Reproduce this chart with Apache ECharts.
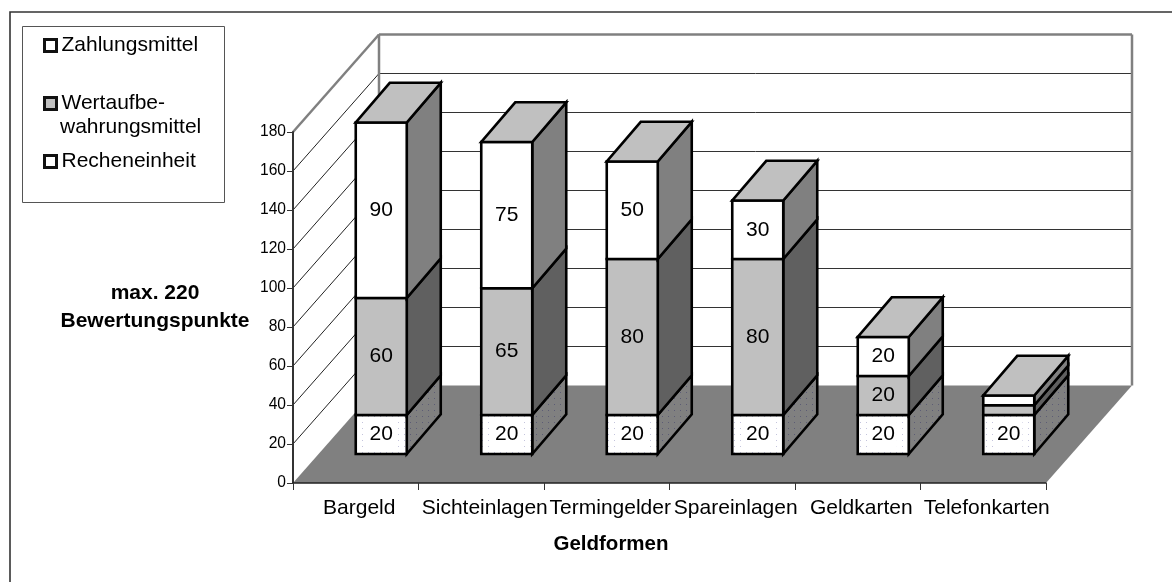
<!DOCTYPE html>
<html>
<head>
<meta charset="utf-8">
<style>html,body{margin:0;padding:0;background:#fff}#c{width:1172px;height:582px}</style>
<script src="https://cdn.jsdelivr.net/npm/echarts@6/dist/echarts.min.js"></script>
</head>
<body>
<div id="c"></div>
<script>
const categories = ['Bargeld','Sichteinlagen','Termingelder','Spareinlagen','Geldkarten','Telefonkarten'];
const recheneinheit = [20,20,20,20,20,20];
const wertaufbewahrung = [60,65,80,80,20,5];
const zahlungsmittel = [90,75,50,30,20,5];
const yTicks = [0,20,40,60,80,100,120,140,160,180];

const FONT = '"Liberation Sans", Arial, sans-serif';
const WALL = [86,-97.5], OFF = [25.5,-29], DEPTH = [34,-39.7];
const BAR_RATIO = 51/125.5;

function dots(bg, dot){
  const c = document.createElement('canvas');
  c.width = 6; c.height = 6;
  const g = c.getContext('2d');
  g.fillStyle = bg; g.fillRect(0,0,6,6);
  g.fillStyle = dot; g.fillRect(2,2,1,1);
  return {image:c, repeat:'repeat'};
}
const dotFront = dots('#ffffff','#c4c4dc');
const dotSide = dots('#808080','#5c5c74');

function poly(pts, fill, stroke, w){
  return {type:'polygon', shape:{points:pts}, style:{fill:fill, stroke:stroke||null, lineWidth:w||0, lineJoin:'miter'}};
}
function line(a,b,stroke,w){
  return {type:'line', shape:{x1:a[0],y1:a[1],x2:b[0],y2:b[1]}, style:{stroke:stroke, lineWidth:w}};
}

function renderWalls(params, api){
  const cs = params.coordSys, ch = [];
  const L = cs.x, R = cs.x+cs.width, Y0 = api.coord([0,0])[1], Yt = api.coord([0,180])[1];
  const dx = WALL[0], dy = WALL[1];
  ch.push(poly([[L,Yt],[L+dx,Yt+dy],[R+dx,Yt+dy],[R+dx,Y0+dy],[L+dx,Y0+dy],[L,Y0]],'#ffffff'));
  ch.push(poly([[L,Y0],[R,Y0],[R+dx,Y0+dy],[L+dx,Y0+dy]],'#808080'));
  yTicks.forEach(function(t){
    const y = api.coord([0,t])[1];
    if(t>0 && t<180){
      ch.push(line([L,y],[L+dx,y+dy],'#222',1));
      ch.push(line([L+dx,y+dy],[R+dx,y+dy],'#333',1));
    }
  });
  ch.push(line([L,Yt],[L+dx,Yt+dy],'#808080',2.5));
  ch.push(line([L+dx,Yt+dy],[R+dx,Yt+dy],'#808080',2.5));
  ch.push(line([L+dx,Yt+dy],[L+dx,Y0+dy],'#808080',2.5));
  ch.push(line([R+dx,Yt+dy],[R+dx,Y0+dy],'#808080',2.5));
  return {type:'group', children:ch};
}

function barRenderer(front, side, cap, labelBg){
  return function(params, api){
    const cat = api.value(0), a = api.value(1), b = api.value(2);
    const pa = api.coord([cat,a]), pb = api.coord([cat,b]);
    const w = api.size([1,0])[0]*BAR_RATIO;
    const x0 = pa[0]-w/2+OFF[0], x1 = x0+w;
    const y0 = pa[1]+OFF[1], y1 = pb[1]+OFF[1];
    const dx = DEPTH[0], dy = DEPTH[1], lw = 2.6;
    const ch = [
      poly([[x1,y0],[x1,y1],[x1+dx,y1+dy],[x1+dx,y0+dy]],side,'#000',lw),
      poly([[x0,y0],[x1,y0],[x1,y1],[x0,y1]],front,'#000',lw)
    ];
    if(cap){
      ch.push(poly([[x0,y1],[x1,y1],[x1+dx,y1+dy],[x0+dx,y1+dy]],cap,'#000',lw));
    }
    if(b-a>=20){
      ch.push({type:'text', style:{
        x:(x0+x1)/2, y:(y0+y1)/2, text:String(b-a), fill:'#000',
        font:'21px '+FONT, align:'center', verticalAlign:'middle',
        backgroundColor:labelBg||null, padding:labelBg?[5,2]:0
      }});
    }
    return {type:'group', children:ch};
  };
}

const base = recheneinheit.map(function(v,i){return [i,0,v];});
const mid = wertaufbewahrung.map(function(v,i){return [i,recheneinheit[i],recheneinheit[i]+v];});
const top_ = zahlungsmittel.map(function(v,i){
  const s = recheneinheit[i]+wertaufbewahrung[i]; return [i,s,s+v];
});

function legendAt(name, topPx, fill, label){
  return {
    show:true, left:43, top:topPx, orient:'vertical', selectedMode:false, padding:0,
    itemWidth:12, itemHeight:12, icon:'rect',
    itemStyle:{color:fill, borderColor:'#111', borderWidth:3},
    textStyle:{fontFamily:FONT, fontSize:21, color:'#000', padding:[0,0,0,0]},
    formatter:function(){return label;},
    data:[{name:name}]
  };
}

const chart = echarts.init(document.getElementById('c'), null, {renderer:'canvas'});
chart.setOption({
  animation:false,
  backgroundColor:'#fff',
  grid:{left:293, top:132, width:753, height:351, containLabel:false},
  legend:[
    legendAt('Zahlungsmittel',35,'#ffffff','Zahlungsmittel'),
    legendAt('Wertaufbewahrungsmittel',93,'#c0c0c0','Wertaufbe-'),
    legendAt('Recheneinheit',151,'#ffffff','Recheneinheit')
  ],
  xAxis:{
    type:'category', data:categories, boundaryGap:true, z:10,
    axisLine:{lineStyle:{color:'#222',width:1.5}},
    axisTick:{show:true,length:7,alignWithLabel:false,lineStyle:{color:'#333',width:1}},
    axisLabel:{interval:0,hideOverlap:false,margin:15,color:'#000',fontFamily:FONT,fontSize:21,padding:[0,0,0,7]},
    splitLine:{show:false},
    name:'Geldformen', nameLocation:'middle', nameGap:51,
    nameTextStyle:{fontFamily:FONT,fontSize:20.5,fontWeight:'bold',color:'#000',padding:[0,117,0,0]}
  },
  yAxis:{
    type:'value', min:0, max:180, interval:20, z:10,
    axisLine:{show:true,lineStyle:{color:'#333',width:2}},
    axisTick:{show:true,length:6,lineStyle:{color:'#333',width:1}},
    axisLabel:{margin:7,color:'#000',fontFamily:FONT,fontSize:15.6},
    splitLine:{show:false},
    name:'max. 220\nBewertungspunkte', nameLocation:'middle', nameGap:138, nameRotate:0,
    nameTextStyle:{fontFamily:FONT,fontSize:21,fontWeight:'bold',color:'#000',align:'center',lineHeight:28,padding:[4,0,0,0]}
  },
  graphic:[
    {type:'polyline', z:-1, shape:{points:[[10,582],[10,12],[1172,12]]}, style:{fill:null,stroke:'#333',lineWidth:1.6}},
    {type:'rect', z:-1, shape:{x:22.5,y:26.5,width:202,height:176}, style:{fill:'#fff',stroke:'#555',lineWidth:1}},
    {type:'text', z:5, style:{x:60,y:127,text:'wahrungsmittel',fill:'#000',font:'21px '+FONT,verticalAlign:'middle'}}
  ],
  series:[
    {type:'custom', silent:true, z:1, renderItem:renderWalls, data:[[0,0,0]], encode:{x:0,y:1}},
    {type:'custom', name:'Recheneinheit', silent:true, z:2, renderItem:barRenderer(dotFront,dotSide,null,'#ffffff'), data:base, encode:{x:0,y:[1,2]}},
    {type:'custom', name:'Wertaufbewahrungsmittel', silent:true, z:3, renderItem:barRenderer('#c0c0c0','#606060',null,null), data:mid, encode:{x:0,y:[1,2]}},
    {type:'custom', name:'Zahlungsmittel', silent:true, z:4, renderItem:barRenderer('#ffffff','#808080','#c0c0c0',null), data:top_, encode:{x:0,y:[1,2]}}
  ]
});
</script>
</body>
</html>
